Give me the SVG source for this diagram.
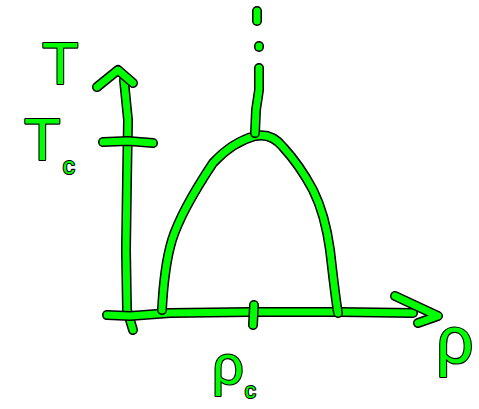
<svg xmlns="http://www.w3.org/2000/svg" xmlns:xlink="http://www.w3.org/1999/xlink" width="479" height="409" viewBox="0 0 479 409">
<style>
.o{fill:none;stroke:#000;stroke-width:10;stroke-linecap:round;stroke-linejoin:round}
.g{fill:none;stroke:#00ff00;stroke-width:7;stroke-linecap:round;stroke-linejoin:round}
.t{font-family:"Liberation Sans",Arial,sans-serif;fill:#00ff00;stroke:#000;stroke-width:2.2;paint-order:stroke;stroke-linejoin:round}
</style>
<defs>
<path id="yaxis" d="M133,330 L127,310 L126,250 L127,180 L128,120 L124,80"/>
<path id="yarrow" d="M97,87 L118,70 L133,83"/>
<path id="ytick" d="M103,142 L128,141 L153,143"/>
<path id="xaxis" d="M107,315 L130,316 L170,313 L250,312 L340,312 L413,313"/>
<path id="xarrow" d="M395,296 L438,316 L418,323"/>
<path id="xtick" d="M254,305 L253,325"/>
<path id="curve" d="M162,310 C163,290 166,260 172,240 C180,215 195,190 213,163 C225,150 240,140 255,136 C265,134 275,137 283,147 C295,160 305,175 313,190 C322,208 327,228 330,250 C333,275 335,295 338,313"/>
<path id="cline" d="M255,133 L256,110 L259,90 L259,68"/>
<path id="dot" d="M259,46 L259,47"/>
<path id="dash" d="M257,11 L257,21"/>
</defs>
<g id="axes">
<use href="#yaxis" class="o"/><use href="#yaxis" class="g"/>
<use href="#yarrow" class="o"/><use href="#yarrow" class="g"/>
<use href="#ytick" class="o"/><use href="#ytick" class="g"/>
<use href="#xaxis" class="o"/><use href="#xaxis" class="g"/>
<use href="#xarrow" class="o"/><use href="#xarrow" class="g"/>
<use href="#xtick" class="o"/><use href="#xtick" class="g"/>
</g>
<g id="coexistence-curve">
<use href="#curve" class="o"/><use href="#curve" class="g"/>
</g>
<g id="critical-line">
<use href="#cline" class="o"/><use href="#cline" class="g"/>
<use href="#dot" class="o"/><use href="#dot" class="g"/>
<use href="#dash" class="o"/><use href="#dash" class="g"/>
</g>
<g id="labels">
<text class="t" x="42" y="84" font-size="60">T</text>
<text class="t" x="24" y="160" font-size="60">T<tspan font-size="24" dy="14" dx="2">c</tspan></text>
<text class="t" x="436" y="363" font-size="66">ρ</text>
<text class="t" x="212" y="384" font-size="56">ρ<tspan font-size="22" dy="14" dx="1">c</tspan></text>
</g>
</svg>
